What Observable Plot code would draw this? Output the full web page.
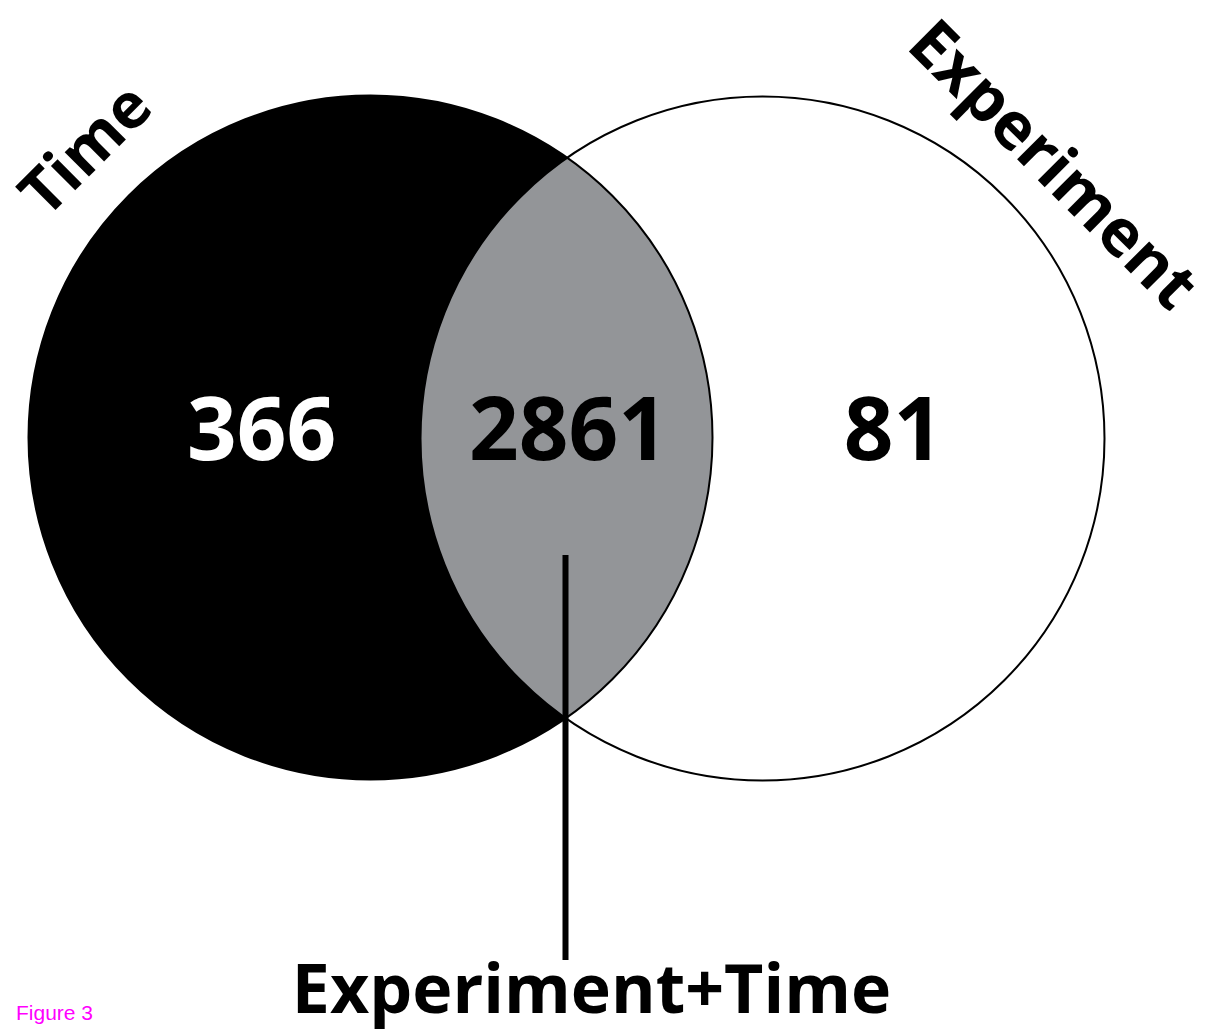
<!DOCTYPE html>
<html>
<head>
<meta charset="utf-8">
<script src="https://cdn.jsdelivr.net/npm/d3@7"></script>
<script src="https://cdn.jsdelivr.net/npm/@observablehq/plot@0.6"></script>
<style>
  html, body { margin: 0; padding: 0; background: #fff; }
  #chart { position: relative; width: 1208px; height: 1034px; }
  #caption { position: absolute; left: 16px; top: 1001px; font: 21px "Liberation Sans", Arial, sans-serif; color: #ff00ff; line-height: 24px; }
</style>
</head>
<body>
<div id="chart"></div>
<script>
// ---- data ----
const setNames = ["Time", "Experiment"];
const onlyCounts = [366, 81];
const overlapLabel = "Experiment+Time";
const overlapCount = 2861;
const captionText = "Figure 3";

// ---- layout (geometry of the diagram) ----
const W = 1208, H = 1034;
const R = 342;
const centers = [{x: 370, y: 437}, {x: 762, y: 438}];
const font = "'Open Sans', sans-serif";

// lens polygon from circle geometry
const d = centers[1].x - centers[0].x;
const a = d / 2;
const h = Math.sqrt(R * R - a * a);
const ang = Math.atan2(h, a);
const lens = [];
const N = 120;
for (let i = 0; i <= N; i++) {
  const t = -ang + (2 * ang) * i / N;
  lens.push({x: centers[0].x + R * Math.cos(t), y: centers[0].y + R * Math.sin(t)});
}
for (let i = 0; i <= N; i++) {
  const t = Math.PI - ang + (2 * ang) * i / N;
  lens.push({x: centers[1].x + R * Math.cos(t), y: centers[1].y + R * Math.sin(t)});
}

const circles = centers.map((c, i) => ({...c, r: R, name: setNames[i]}));
const numbers = [
  {x: 261, y: 432, v: onlyCounts[0], fill: "#fff"},
  {x: 568, y: 432, v: overlapCount, fill: "#000"},
  {x: 893, y: 432, v: onlyCounts[1], fill: "#000"}
];

const plot = Plot.plot({
  width: W, height: H,
  margin: 0,
  x: {domain: [0, W], range: [0, W], axis: null},
  y: {domain: [0, H], range: [0, H], axis: null},
  r: {type: "identity"},
  style: {background: "transparent"},
  marks: [
    Plot.dot([circles[1]], {x: "x", y: "y", r: "r", fill: "#fff", stroke: "none"}),
    Plot.dot([circles[0]], {x: "x", y: "y", r: "r", fill: "#000", stroke: "none"}),
    Plot.line(lens, {x: "x", y: "y", fill: "#939598", stroke: "none", curve: "linear"}),
    Plot.dot(circles, {x: "x", y: "y", r: "r", fill: "none", stroke: "#000", strokeWidth: 2}),
    Plot.ruleX([{x: 565, y1: 555, y2: 960}], {x: "x", y1: "y1", y2: "y2", stroke: "#000", strokeWidth: 6}),
    Plot.text(numbers, {x: "x", y: "y", text: d => String(d.v), fill: "fill", fontSize: 87, fontWeight: 700, fontFamily: font, textAnchor: "middle", lineAnchor: "middle"}),
    Plot.text([setNames[0]], {x: () => 86, y: () => 150, text: d => d, rotate: -45, fontSize: 63, fontWeight: 700, fontFamily: font, fill: "#000", textAnchor: "middle", lineAnchor: "middle"}),
    Plot.text([setNames[1]], {x: () => 1052, y: () => 165, text: d => d, rotate: 45, fontSize: 65, fontWeight: 700, fontFamily: font, fill: "#000", textAnchor: "middle", lineAnchor: "middle"}),
    Plot.text([overlapLabel], {x: () => 591, y: () => 991, text: d => d, fontSize: 68, fontWeight: 700, fontFamily: font, fill: "#000", textAnchor: "middle", lineAnchor: "middle"})
  ]
});
document.getElementById("chart").appendChild(plot);
const cap = document.createElement("div");
cap.id = "caption";
cap.textContent = captionText;
document.getElementById("chart").appendChild(cap);
</script>
</body>
</html>
